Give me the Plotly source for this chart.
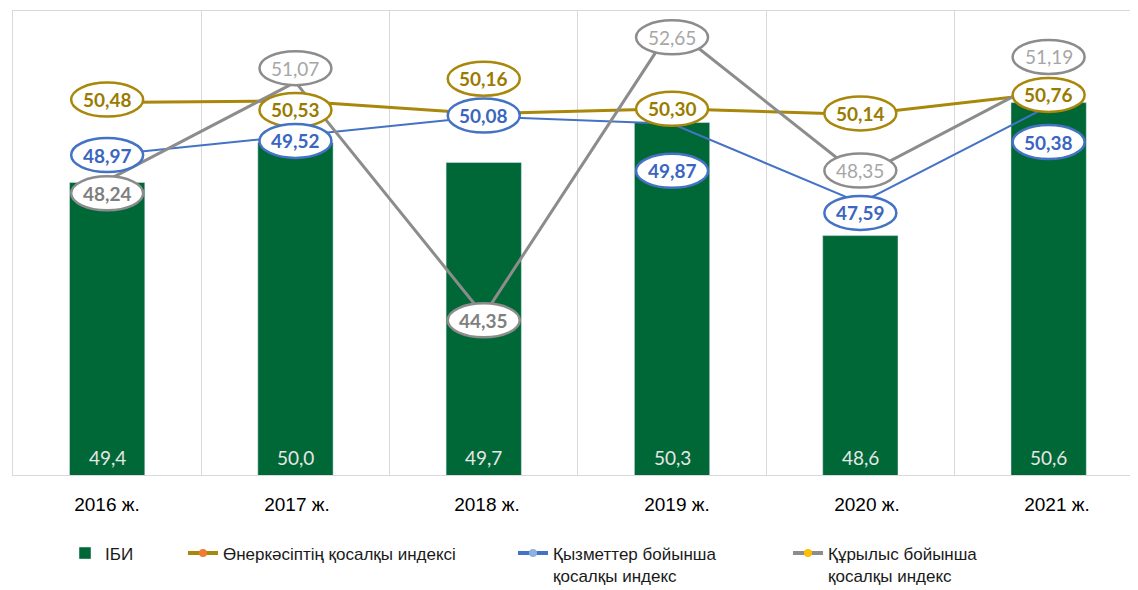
import plotly.graph_objects as go

# ---------------- data ----------------
years = ["2016 ж.", "2017 ж.", "2018 ж.", "2019 ж.", "2020 ж.", "2021 ж."]
ibi = [49.4, 50.0, 49.7, 50.3, 48.6, 50.6]
industry = [50.48, 50.53, 50.16, 50.30, 50.14, 50.76]
services = [48.97, 49.52, 50.08, 49.87, 47.59, 50.38]
construction = [48.24, 51.07, 44.35, 52.65, 48.35, 51.19]

series_names = ["ІБИ", "Өнеркәсіптің қосалқы индексі",
                "Қызметтер бойынша<br>қосалқы индекс",
                "Құрылыс бойынша<br>қосалқы индекс"]

# ---------------- styles ----------------
GREEN = "#006837"
GOLD = "#a8870a"
GOLD_TXT = "#9a7b00"
BLUE = "#4472c4"
BLUE_TXT = "#3a66c0"
GRAY = "#8c8c8c"
GRID = "#d9d9d9"
LABEL_FONT = "Lato, 'Open Sans', sans-serif"
AXIS_FONT = "'Liberation Sans Narrow', 'Arial Narrow', 'Liberation Sans', sans-serif"

# label vertical offsets in pixels (positive = below the point)
off_industry = [-3, 9, -35, 0, -1, 2]
off_services = [0, 5, -1, 47, 10, 36]
off_construction = [13, -14, 5, 10, -6, -21]
bold_construction = [True, False, True, False, False, False]

x = list(range(len(years)))

def fmt(v, nd):
    return f"{v:.{nd}f}".replace(".", ",")

fig = go.Figure()

fig.add_trace(go.Bar(
    x=x, y=ibi, name=series_names[0], marker_color=GREEN, width=0.4,
    showlegend=False, hoverinfo="skip", yaxis="y",
))

line_specs = [
    (industry, GOLD, 3, off_industry),
    (services, BLUE, 2, off_services),
    (construction, GRAY, 3, off_construction),
]
for vals, col, w, _ in line_specs:
    fig.add_trace(go.Scatter(
        x=x, y=vals, mode="lines", line=dict(color=col, width=w),
        yaxis="y2", showlegend=False, hoverinfo="skip", cliponaxis=False,
    ))

# invisible trace carrying the category-label axis
fig.add_trace(go.Scatter(x=[None], y=[None], xaxis="x2", yaxis="y",
                         showlegend=False, hoverinfo="skip"))

# legend-only entries
legend_marker = ["#ed7d31", "#8fb0e0", "#ffc000"]
fig.add_trace(go.Bar(x=[None], y=[None], name=series_names[0],
                     marker_color=GREEN, legend="legend"))
for i, (vals, col, w, _) in enumerate(line_specs):
    fig.add_trace(go.Scatter(
        x=[None], y=[None], name=series_names[i + 1], mode="lines+markers",
        line=dict(color=col, width=4),
        marker=dict(color=legend_marker[i], size=8),
        legend=["legend2", "legend3", "legend4"][i], yaxis="y2",
    ))

shapes = []
annotations = []

# bar value labels at the bottom of each bar
for i, v in enumerate(ibi):
    annotations.append(dict(
        x=i, y=0, xref="x", yref="y domain", yanchor="bottom", xanchor="center",
        yshift=4, text=fmt(v, 1), showarrow=False,
        font=dict(color="#e6e6e6", size=19, family=LABEL_FONT),
    ))

# ellipse labels
EW, EH = 36, 17
for si, (vals, col, w, offs) in enumerate(line_specs):
    for i, v in enumerate(vals):
        dy = offs[i]
        shapes.append(dict(
            type="circle", xref="x", yref="y2",
            xsizemode="pixel", ysizemode="pixel",
            xanchor=i, yanchor=v,
            x0=-EW, x1=EW, y0=-dy - EH, y1=-dy + EH,
            fillcolor="white", line=dict(color=col, width=2.5), layer="above",
        ))
        if si == 0:
            tcol, bold = GOLD_TXT, True
        elif si == 1:
            tcol, bold = BLUE_TXT, True
        else:
            bold = bold_construction[i]
            tcol = "#7f7f7f" if bold else "#a6a6a6"
        txt = fmt(v, 2)
        annotations.append(dict(
            x=i, y=v, xref="x", yref="y2", yshift=-dy,
            text=f"<b>{txt}</b>" if bold else txt, showarrow=False,
            xanchor="center", yanchor="middle",
            font=dict(color=tcol, size=19, family=LABEL_FONT),
        ))

# page body has an 8px margin -> figure is 8px smaller than the window
W, H = 1130, 582
PLOT_L, PLOT_W = 5, 1125

leg_common = dict(orientation="v", xanchor="left", yanchor="top",
                  xref="container", yref="container", y=1 - 527.5 / H,
                  bgcolor="rgba(0,0,0,0)", valign="top",
                  font=dict(family=AXIS_FONT, size=17, color="#1a1a1a"))

fig.update_layout(
    width=W, height=H,
    margin=dict(l=PLOT_L, r=0, t=3, b=115, autoexpand=False),
    paper_bgcolor="white", plot_bgcolor="white",
    barmode="overlay",
    xaxis=dict(range=[-0.5, -0.5 + PLOT_W / 188.3], tickvals=[0.5, 1.5, 2.5, 3.5, 4.5],
               showticklabels=False, showgrid=True, gridcolor=GRID, gridwidth=1,
               showline=True, linecolor=GRID, linewidth=1, mirror=True,
               zeroline=False, ticks=""),
    xaxis2=dict(overlaying="x", anchor="y", side="bottom",
                range=[-94 / 190, -94 / 190 + PLOT_W / 190],
                tickmode="array", tickvals=x, ticktext=years,
                showgrid=False, showline=False, zeroline=False,
                ticks="outside", ticklen=12, tickcolor="rgba(0,0,0,0)",
                tickfont=dict(family=AXIS_FONT, size=19, color="#000000")),
    yaxis=dict(range=[45, 45 + 464 / 66.5], showticklabels=False, showgrid=False,
               showline=True, linecolor=GRID, mirror=True, zeroline=False, ticks=""),
    yaxis2=dict(range=[39.75, 53.12], overlaying="y", side="right",
                showticklabels=False, showgrid=False, showline=False,
                zeroline=False, ticks=""),
    shapes=shapes,
    annotations=annotations,
    legend=dict(x=57 / W, **leg_common),
    legend2=dict(x=175 / W, **leg_common),
    legend3=dict(x=505 / W, **leg_common),
    legend4=dict(x=780 / W, **leg_common),
)

fig.write_html("out.html")
